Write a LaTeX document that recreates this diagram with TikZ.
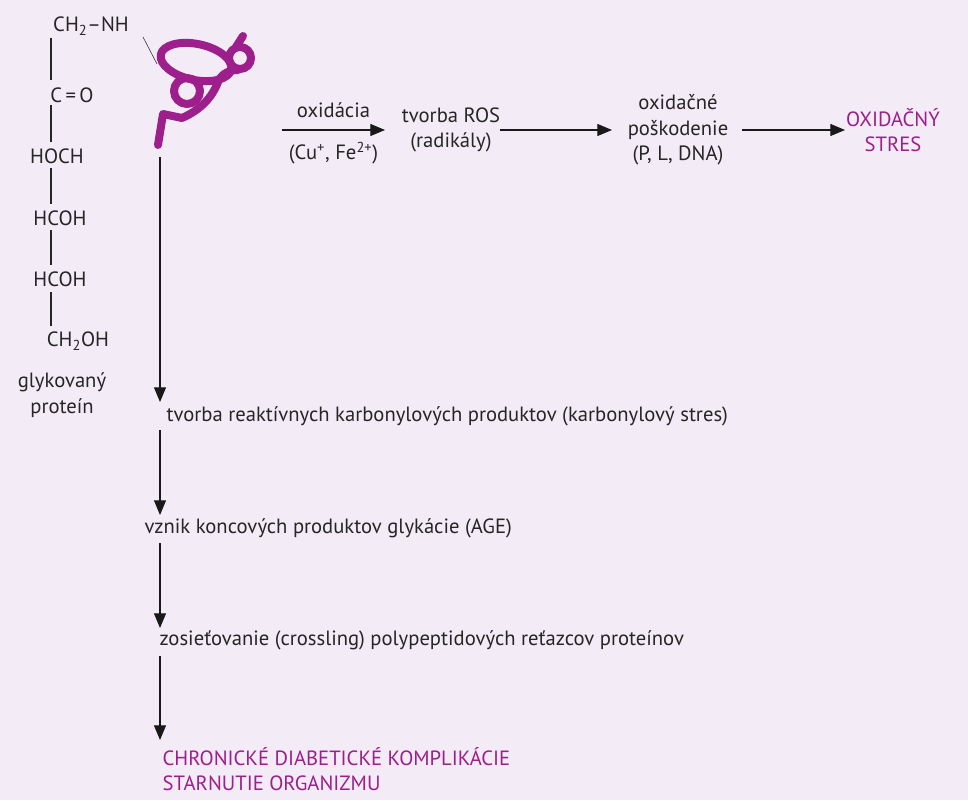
\documentclass[tikz,border=0pt]{standalone}
\usepackage{fontspec}
\setmainfont{PT Sans}
\usetikzlibrary{arrows.meta,positioning}
\definecolor{bgviolet}{HTML}{F3EBF6}
\definecolor{purp}{HTML}{9C1F8C}
\begin{document}
\begin{tikzpicture}[
    x=0.0264cm, y=-0.0264cm,
    every node/.style={font=\fontsize{15.5}{19}\selectfont, text=black!85, inner sep=1pt},
    chem/.style={anchor=center},
    bond/.style={thick, black!85},
    txt/.style={align=center},
    hilite/.style={text=purp, align=left},
    line/.style={-{Triangle[length=11pt,width=9pt]}, thick, black!90}
]
% background
\fill[bgviolet] (0,0) rectangle (968,800);

% glycated chain
\node[chem] (ch2nh) at (91,26) {CH\textsubscript{2}--NH};
\node[chem] (co) at (72,95) {C\,=\,O};
\node[chem] (hoch) at (57,156) {HOCH};
\node[chem] (hcoh1) at (60,218) {HCOH};
\node[chem] (hcoh2) at (60,279) {HCOH};
\node[chem] (ch2oh) at (78,341) {CH\textsubscript{2}OH};
\node[txt] (gprot) at (62,395) {glykovaný\\proteín};
\draw[bond] (51,38) -- (51,80);
\draw[bond] (51,105) -- (51,142);
\draw[bond] (51,168) -- (51,204);
\draw[bond] (51,230) -- (51,265);
\draw[bond] (51,292) -- (51,326);
\draw[thin, black!85] (143,37) -- (157,64);

% protein coil
\begin{scope}[purp, line width=6pt, line cap=round, line join=round]
  \draw (158,145) -- (163,114) -- (182,118)
      .. controls (200,110) and (212,98) .. (218,82)
      .. controls (222,72) and (232,70) .. (238,70);
  \draw[rotate around={-12:(196,62)}] (196,62) ellipse (36 and 18);
  \draw (187,91) circle (13);
  \draw (240,58) circle (11);
  \draw (236,47) -- (243,36);
\end{scope}

% oxidative branch
\coordinate (prot) at (282,130);
\node[txt] (ros) at (451,130) {tvorba ROS\\(radikály)};
\node[txt] (damage) at (678,130) {oxidačné\\poškodenie\\(P, L, DNA)};
\node[txt, text=purp] (stress) at (893,130) {OXIDAČNÝ\\STRES};
\coordinate (a1) at (385,130);
\coordinate (b0) at (500,130);
\coordinate (b1) at (612,130);
\coordinate (c0) at (742,130);
\coordinate (c1) at (845,130);
\draw[line] (prot) -- node[above=8pt] {oxidácia} node[below=8pt] {(Cu\textsuperscript{+}, Fe\textsuperscript{2+})} (a1);
\draw[line] (b0) -- (b1);
\draw[line] (c0) -- (c1);

% glycation branch
\coordinate (coil) at (160,157);
\node[anchor=west] (carb) at (165,416) {tvorba reaktívnych karbonylových produktov (karbonylový stres)};
\node[anchor=west] (age) at (143,528) {vznik koncových produktov glykácie (AGE)};
\node[anchor=west] (cross) at (158,640) {zosieťovanie (crossling) polypeptidových reťazcov proteínov};
\node[hilite, anchor=north west] (chronic) at (161,746) {CHRONICKÉ DIABETICKÉ KOMPLIKÁCIE\\STARNUTIE ORGANIZMU};
\draw[line] (coil) -- (160,402);
\draw[line] (160,430) -- (160,515);
\draw[line] (160,543) -- (160,628);
\draw[line] (160,656) -- (160,740);
\end{tikzpicture}
\end{document}
